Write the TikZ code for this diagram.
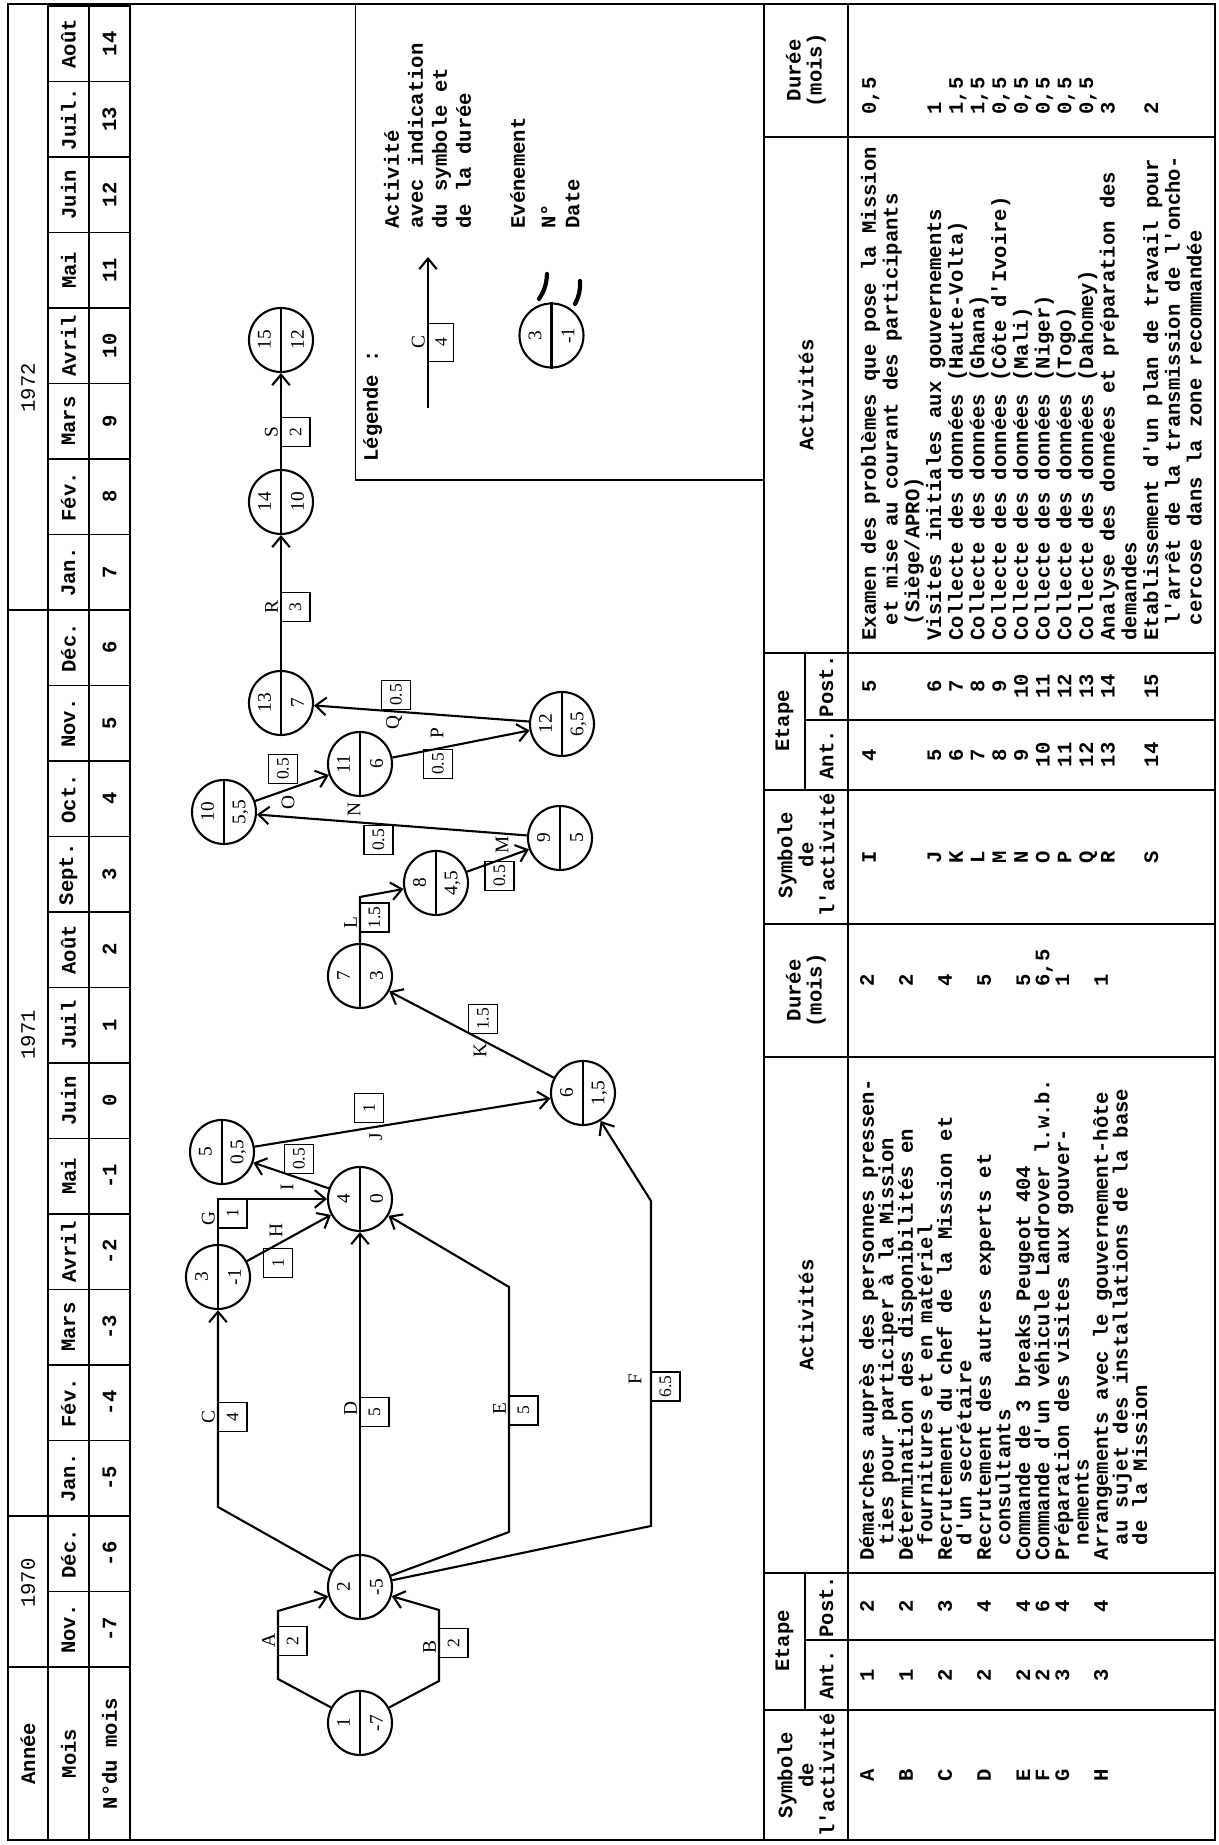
\documentclass[tikz,border=0pt]{standalone}
\usepackage{fontspec}
\setmainfont{Liberation Serif}
\setmonofont{Liberation Mono}
\usetikzlibrary{arrows.meta,calc}

\newcommand{\tapfont}{\fontsize{11.7}{12}\selectfont\ttfamily\bfseries}
\newcommand{\netfont}{\fontsize{11}{12}\selectfont\rmfamily}
\newcommand{\cont}{\hspace*{0.75em}}

\tikzset{
  tab/.style={font=\tapfont, inner sep=0pt},
  evt/.style={circle, draw, line width=1.2pt, minimum size=1.28cm, inner sep=0pt},
  dur/.style={draw, line width=1.1pt, minimum size=0.58cm, inner sep=0pt, font=\fontsize{10}{10}\selectfont\rmfamily},
  lab/.style={font=\netfont, inner sep=1pt},
  act/.style={->, line width=1.2pt},
  rule/.style={line width=1.1pt}
}

% evenement : nom, position, numero, date
\newcommand{\event}[4]{%
  \node[evt] (#1) at (#2) {};
  \draw[line width=1.2pt] (#1.west) -- (#1.east);
  \node[lab] at ($(#1.center)!.5!(#1.north)$) {#3};
  \node[lab] at ($(#1.center)!.5!(#1.south)$) {#4};
}

\begin{document}
\begin{tikzpicture}[x=0.02cm, y=0.02cm, >={Straight Barb[length=6pt,width=10pt]}]
\begin{scope}[rotate=90, transform shape]
\useasboundingbox (0,0) rectangle (1845,1218);
% Cadre
\draw[rule] (5,3) rectangle (1841,1210);

% Calendrier
\draw[rule] (5,1088) -- (1841,1088);
\draw[rule] (5,1129) -- (1841,1129);
\draw[rule] (5,1170) -- (1841,1170);
\draw[rule] (178,1088) -- (178,1210);
\draw[rule] (329,1170) -- (329,1210);
\draw[rule] (1235,1170) -- (1235,1210);
\node[tab] at (91.5,1190) {Année};
\node[tab] at (91.5,1149.5) {Mois};
\node[tab] at (91.5,1108.5) {N°du mois};
\node[tab, font={\fontsize{11.7}{12}\selectfont\ttfamily}] at (262,1190) {1970};
\node[tab, font={\fontsize{11.7}{12}\selectfont\ttfamily}] at (810,1190) {1971};
\node[tab, font={\fontsize{11.7}{12}\selectfont\ttfamily}] at (1457,1190) {1972};
\foreach \m [count=\i from 0] in {Nov.,Déc.,Jan.,Fév.,Mars,Avril,Mai,Juin,Juil,Août,Sept.,Oct.,Nov.,Déc.,Jan.,Fév.,Mars,Avril,Mai,Juin,Juil.,Août} {
  \pgfmathtruncatemacro{\mn}{\i-7}
  \node[tab] at (215.75+75.5*\i,1149.5) {\m};
  \node[tab] at (215.75+75.5*\i,1108.5) {\mn};
  \draw[rule] (253.5+75.5*\i,1088) -- (253.5+75.5*\i,1170);
}

% Tableaux
\draw[rule] (5,454) -- (1841,454);
\draw[rule] (5,370) -- (1841,370);
\foreach \x in {135,272,788,921,1055,1192,1708} \draw[rule] (\x,3) -- (\x,454);
\foreach \x in {205,1125} \draw[rule] (\x,3) -- (\x,413);
\draw[rule] (135,413) -- (272,413);
\draw[rule] (1055,413) -- (1192,413);
\foreach \o in {0,920} {
  \node[tab, align=center] at (70+\o,412) {Symbole\\de\\l'activité};
  \node[tab] at (204+\o,433.5) {Etape};
  \node[tab] at (170+\o,391.5) {Ant.};
  \node[tab] at (238.5+\o,391.5) {Post.};
  \node[tab] at (530+\o,412) {Activités};
  \node[tab, align=center] at (854.5+\o,412) {Durée\\(mois)};
}
\foreach \t [count=\k from 0] in {Démarches auprès des personnes pressen-, \cont ties pour participer à la Mission, Détermination des disponibilités en, \cont fournitures et en matériel, Recrutement du chef de la Mission et, \cont d'un secrétaire, Recrutement des autres experts et, \cont consultants, Commande de 3 breaks Peugeot 404, Commande d'un véhicule Landrover l.w.b., Préparation des visites aux gouver-, \cont nements, Arrangements avec le gouvernement-hôte, \cont au sujet des installations de la base, \cont de la Mission}
  \node[tab, anchor=base west] at (284,344-19.5*\k) {\t};
\foreach \k/\sym/\ant/\post/\du in {0/A/1/2/2, 2/B/1/2/2, 4/C/2/3/4, 6/D/2/4/5, 8/E/2/4/5, 9/F/2/6/{6,5}, 10/G/3/4/1, 12/H/3/4/1} {
  \node[tab, anchor=base] at (70,344-19.5*\k) {\sym};
  \node[tab, anchor=base] at (170,344-19.5*\k) {\ant};
  \node[tab, anchor=base] at (238.5,344-19.5*\k) {\post};
  \node[tab, anchor=base west] at (858,344-19.5*\k) {\du};
}
\foreach \t [count=\k from 0] in {Examen des problèmes que pose la Mission, \cont et mise au courant des participants, \cont (Siège/APRO), Visites initiales aux gouvernements, Collecte des données (Haute-Volta), Collecte des données (Ghana), Collecte des données (Côte d'Ivoire), Collecte des données (Mali), Collecte des données (Niger), Collecte des données (Togo), Collecte des données (Dahomey), Analyse des données et préparation des, demandes, Etablissement d'un plan de travail pour, \cont l'arrêt de la transmission de l'oncho-, \cont cercose dans la zone recommandée}
  \node[tab, anchor=base west] at (1204,342-21.7*\k) {\t};
\foreach \k/\sym/\ant/\post/\du in {0/I/4/5/{0,5}, 3/J/5/6/1, 4/K/6/7/{1,5}, 5/L/7/8/{1,5}, 6/M/8/9/{0,5}, 7/N/9/10/{0,5}, 8/O/10/11/{0,5}, 9/P/11/12/{0,5}, 10/Q/12/13/{0,5}, 11/R/13/14/3, 13/S/14/15/2} {
  \node[tab, anchor=base] at (988,342-21.7*\k) {\sym};
  \node[tab, anchor=base] at (1090,342-21.7*\k) {\ant};
  \node[tab, anchor=base] at (1158.5,342-21.7*\k) {\post};
  \node[tab, anchor=base west] at (1730,342-21.7*\k) {\du};
}

% Reseau : evenements
\event{n1}{122,858}{1}{-7}
\event{n2}{258,858}{2}{-5}
\event{n3}{568,1000}{3}{-1}
\event{n4}{646,858}{4}{0}
\event{n5}{693,996}{5}{0,5}
\event{n6}{752,635}{6}{1,5}
\event{n7}{869,858}{7}{3}
\event{n8}{962,782}{8}{4,5}
\event{n9}{1007,658}{9}{5}
\event{n10}{1033,994}{10}{5,5}
\event{n11}{1081,858}{11}{6}
\event{n12}{1121,656}{12}{6,5}
\event{n13}{1142,937}{13}{7}
\event{n14}{1343,937}{14}{10}
\event{n15}{1505,937}{15}{12}

% Reseau : activites
\coordinate (a1) at (166,940); \coordinate (a2) at (234,940);
\draw[act] (n1) -- (a1) -- (a2) -- (n2);
\node[dur] at (204,925.5) {2};
\node[lab, anchor=south] at (204,941) {A};
\coordinate (b1) at (164,779); \coordinate (b2) at (235,779);
\draw[act] (n1) -- (b1) -- (b2) -- (n2);
\node[dur] at (202,764.5) {2};
\node[lab, anchor=south] at (198,780) {B};
\coordinate (c1) at (338,1000);
\draw[act] (n2) -- (c1) -- (n3);
\node[dur] at (428,985.5) {4};
\node[lab, anchor=south] at (428,1001) {C};
\draw[act] (n2) -- (n4);
\node[dur] at (433,843.5) {5};
\node[lab, anchor=south] at (436,859) {D};
\coordinate (e1) at (313,709); \coordinate (e2) at (558,709);
\draw[act] (n2) -- (e1) -- (e2) -- (n4);
\node[dur] at (434.5,694.5) {5};
\node[lab, anchor=south] at (436,710) {E};
\coordinate (f1) at (319,567); \coordinate (f2) at (644,567);
\draw[act] (n2) -- (f1) -- (f2) -- (n6);
\node[dur] at (458.5,552.5) {6.5};
\node[lab] at (466,583) {F};
\coordinate (g1) at (646,1000);
\draw[act] (n3) -- (g1) -- (n4);
\node[dur] at (631.5,985.5) {1};
\node[lab, anchor=south] at (626,1001) {G};
\draw[act] (n3) -- (n4);
\node[dur] at (582,940) {1};
\node[lab] at (614,942) {H};
\draw[act] (n4) -- (n5);
\node[dur] at (686,919) {0.5};
\node[lab] at (658,931) {I};
\draw[act] (n5) -- (n6);
\node[dur] at (737,849) {1};
\node[lab] at (708,842) {J};
\draw[act] (n6) -- (n7);
\node[dur] at (826,735) {1.5};
\node[lab] at (794,738) {K};
\coordinate (l1) at (948,858);
\draw[act] (n7) -- (l1) -- (n8);
\node[dur] at (927.5,843.5) {1.5};
\node[lab, anchor=south] at (922,859) {L};
\draw[act] (n8) -- (n9);
\node[dur] at (969,718.5) {0.5};
\node[lab] at (1000,716) {M};
\draw[act] (n9) -- (n10);
\node[dur] at (1005,839.5) {0.5};
\node[lab] at (1035,864) {N};
\draw[act] (n10) -- (n11);
\node[dur] at (1076,935) {0.5};
\node[lab] at (1042,930) {O};
\draw[act] (n11) -- (n12);
\node[dur] at (1081,780) {0.5};
\node[lab] at (1112,781) {P};
\draw[act] (n12) -- (n13);
\node[dur] at (1150,822) {0.5};
\node[lab] at (1122,824) {Q};
\draw[act] (n13) -- (n14);
\node[dur] at (1238,922.5) {3};
\node[lab, anchor=south] at (1238,938) {R};
\draw[act] (n14) -- (n15);
\node[dur] at (1413,922.5) {2};
\node[lab, anchor=south] at (1413,938) {S};

% Legende
\draw[rule] (1365,454) -- (1365,862.5) -- (1841,862.5);
\node[tab, anchor=base west] at (1383,840) {Légende :};
\coordinate (lg1) at (1437,790); \coordinate (lg2) at (1588,790);
\draw[act] (lg1) -- (lg2);
\node[dur, minimum width=0.76cm, minimum height=0.5cm] at (1502.5,777) {4};
\node[lab, anchor=south] at (1503,791) {C};
\event{lg}{1509.5,666.5}{3}{-1}
\draw[line width=2.4pt, line cap=round] (1546,679) to[bend right=15] (1571,671);
\draw[line width=2.4pt, line cap=round] (1541,643) to[bend right=15] (1564,638);
\foreach \t [count=\k from 0] in {Activité, avec indication, du symbole et, de la durée}
  \node[tab, anchor=base west] at (1616,819-24*\k) {\t};
\foreach \t/\y in {Evénement/693, N°/662.5, Date/638.5}
  \node[tab, anchor=base west] at (1616,\y) {\t};
\end{scope}
\end{tikzpicture}
\end{document}
